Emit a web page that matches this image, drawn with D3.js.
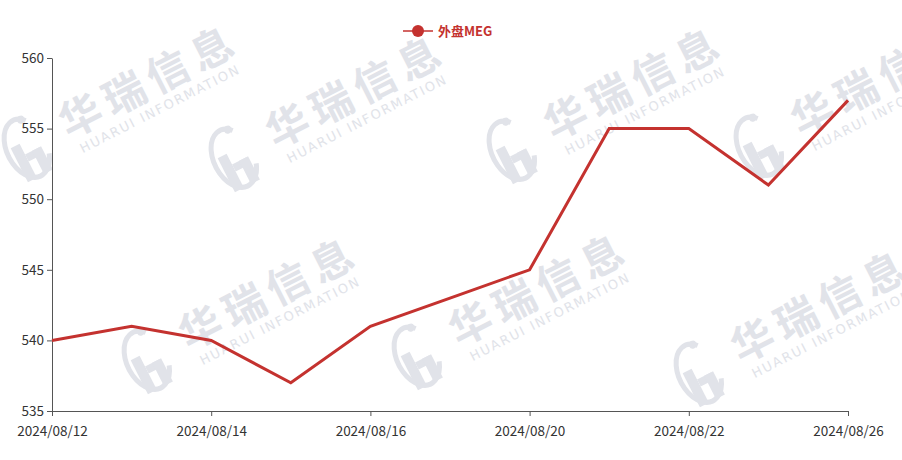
<!DOCTYPE html>
<html><head><meta charset="utf-8">
<script src="https://cdn.jsdelivr.net/npm/d3@7"></script>
<style>body{margin:0;background:#fff}svg{display:block}</style>
</head><body><svg id="c" width="902" height="460"></svg>
<script>
const categories = ["2024/08/12","2024/08/13","2024/08/14","2024/08/15","2024/08/16","2024/08/19","2024/08/20","2024/08/21","2024/08/22","2024/08/23","2024/08/26"];
const seriesName = "外盘MEG";
const values = [540, 541, 540, 537, 541, 543, 545, 555, 555, 551, 557];
const yTicks = [535, 540, 545, 550, 555, 560];
const watermarks = [[25,150],[232,160],[510,152],[757,148],[145,362],[415,358],[697,375]];

(function () {
const svg = d3.select("#c");
const mLeft = 52, mRight = 848, mTop = 58, mBottom = 411;
const red = "#c4322f", axisColor = "#555", textColor = "#333";
const font = "'Noto Sans CJK SC','Microsoft YaHei',sans-serif";

// watermarks
const wmColor = "#e1e3e9";
watermarks.forEach(([cx, cy]) => {
  const g = svg.append("g").attr("transform", `translate(${cx},${cy}) rotate(-27)`);
  g.append("path")
    .attr("d", "M 14 -26 A 20 31 0 1 0 20 14")
    .attr("fill", "none").attr("stroke", wmColor).attr("stroke-width", 5);
  g.append("circle").attr("cx", 10).attr("cy", -29).attr("r", 4).attr("fill", wmColor);
  g.append("rect").attr("x", -12).attr("y", -8).attr("width", 10).attr("height", 38).attr("fill", wmColor);
  g.append("rect").attr("x", -2).attr("y", 4).attr("width", 16).attr("height", 8).attr("fill", wmColor);
  g.append("rect").attr("x", 6).attr("y", 4).attr("width", 10).attr("height", 26).attr("fill", wmColor);
  g.append("text").attr("x", 44).attr("y", 10).text("华瑞信息")
    .attr("font-family", font).attr("font-weight", 700).attr("font-size", 42)
    .attr("letter-spacing", 7).attr("fill", wmColor);
  g.append("text").attr("x", 50).attr("y", 29).text("HUARUI INFORMATION")
    .attr("font-family", "'DejaVu Sans',sans-serif").attr("font-size", 13)
    .attr("letter-spacing", 1.8).attr("fill", wmColor);
});

const x = d3.scalePoint().domain(categories).range([mLeft, mRight]);
const y = d3.scaleLinear().domain([535, 560]).range([mBottom, mTop]);

// y axis
const yAxis = svg.append("g").attr("transform", `translate(${mLeft},0)`)
  .call(d3.axisLeft(y).tickValues(yTicks).tickSize(5).tickPadding(3).tickSizeOuter(0));
yAxis.select(".domain").attr("stroke", axisColor);
yAxis.selectAll(".tick line").attr("stroke", axisColor);
yAxis.selectAll("text").attr("fill", textColor).attr("font-size", 13.5).attr("font-family", font);

// x axis
const shown = categories.filter((d, i) => i % 2 === 0);
const xAxis = svg.append("g").attr("transform", `translate(0,${mBottom})`)
  .call(d3.axisBottom(x).tickValues(shown).tickSize(5).tickPadding(10).tickSizeOuter(0));
xAxis.select(".domain").attr("stroke", axisColor);
xAxis.selectAll(".tick line").attr("stroke", axisColor);
xAxis.selectAll("text").attr("fill", textColor).attr("font-size", 13.5).attr("font-family", font);

// line
const line = d3.line().x((d, i) => x(categories[i])).y(d => y(d));
svg.append("path").datum(values).attr("d", line)
  .attr("fill", "none").attr("stroke", red).attr("stroke-width", 3).attr("stroke-linejoin", "miter");

// legend
const lg = svg.append("g").attr("transform", "translate(403,31)");
lg.append("line").attr("x1", 0).attr("x2", 30).attr("y1", 0).attr("y2", 0).attr("stroke", red).attr("stroke-width", 1.5);
lg.append("circle").attr("cx", 15).attr("cy", 0).attr("r", 6).attr("fill", red);
lg.append("text").attr("x", 35).attr("y", 0).attr("dy", "0.35em").text(seriesName)
  .attr("fill", red).attr("font-size", 13).attr("font-weight", "bold").attr("font-family", font);
})();
</script></body></html>
